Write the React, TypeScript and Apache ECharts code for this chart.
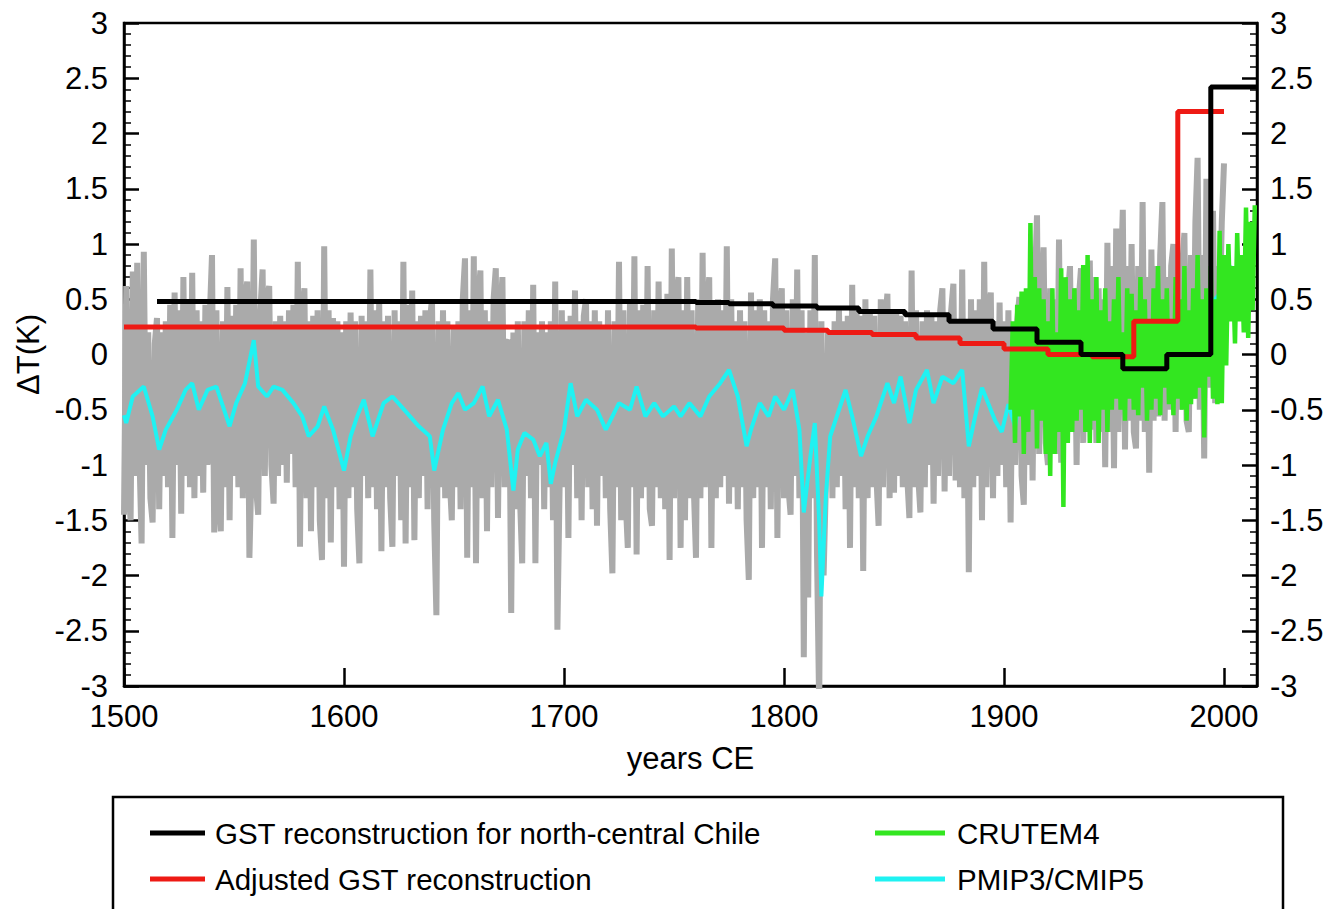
import React, { useEffect, useRef } from "react";
import * as echarts from "echarts";

// ---- Data ----
// Gray annual series (proxy/ensemble spread), 1500..2000
const grayStartYear = 1500;
const grayValues = [
  -1.45, 0.62, -1.2, -1.5, 0.75, -1.1, 0.83, -0.9, -1.71, 0.93,
  -1.0, 0.2, -1.3, -1.52, 0.1, 0.33, -1.4, 0.2, -1.1, 0.3,
  -1.2, 0.45, -1.66, 0.56, -1.0, 0.4, -1.44, 0.7, -1.1, 0.5,
  -1.2, 0.74, -1.3, 0.4, -1.1, 0.3, -1.25, 0.45, -1.0, 0.35,
  0.9, -1.61, 0.4, -1.3, -1.6, 0.3, -1.2, 0.61, -1.5, 0.35,
  -1.1, 0.45, -1.2, 0.78, -1.3, 0.5, 0.66, -1.84, -1.0, 1.04,
  -1.2, -1.45, 0.4, 0.77, -1.1, 0.5, 0.62, -1.0, -1.35, 0.3,
  -1.1, 0.35, -1.0, 0.3, -1.16, 0.4, -0.9, 0.45, -1.2, 0.84,
  -1.74, 0.4, 0.6, -1.3, 0.3, -1.6, 0.35, -1.2, 0.4, -1.5,
  -1.86, 0.98, -1.3, 0.4, -1.7, 0.33, -1.2, 0.3, -1.4, 0.2,
  -1.92, 0.3, -1.3, 0.38, -1.2, 0.3, -1.4, -1.89, 0.35, -1.1,
  0.3, -1.3, 0.77, -1.2, 0.4, -1.4, 0.47, -1.78, 0.3, -1.2,
  0.35, -1.3, -1.74, 0.4, -1.1, 0.3, -1.5, 0.84, -1.71, 0.45,
  -1.2, 0.58, -1.68, 0.3, -1.3, 0.35, -1.1, 0.4, -1.4, 0.3,
  0.5, -1.5, -2.36, 0.3, -1.2, 0.4, -1.3, 0.3, -1.1, -1.5,
  0.25, -1.2, 0.3, -1.4, 0.5, 0.87, -1.84, 0.4, -1.2, 0.89,
  -1.89, 0.5, 0.76, -1.3, 0.4, -1.6, 0.3, -1.2, 0.5, 0.78,
  -1.48, 0.35, 0.7, -1.2, 0.1, 0.13, -2.34, 0.2, -1.4, 0.3,
  -1.3, -1.89, 0.3, -1.1, 0.4, -1.3, 0.63, -1.89, 0.2, -1.0,
  0.3, -1.4, 0.2, -1.2, 0.3, -1.5, 0.66, -2.49, -1.2, 0.4,
  -1.2, 0.3, -1.66, 0.35, -1.0, 0.58, -1.3, 0.3, -1.5, 0.35,
  0.5, -1.2, 0.3, -1.4, 0.4, -1.55, 0.3, -1.1, 0.25, -1.3,
  0.4, -1.4, -1.98, 0.3, -1.2, 0.84, -1.5, 0.4, -1.3, -1.75,
  0.5, -1.2, 0.89, -1.81, 0.4, -1.3, 0.45, -1.2, 0.8, -1.4,
  -1.55, 0.4, -1.2, 0.66, -1.3, 0.5, -1.4, 0.55, -1.86, 0.96,
  -1.3, 0.5, 0.7, -1.75, 0.4, -1.5, 0.7, -1.3, 0.4, -1.2,
  -1.84, 0.5, -1.3, 0.92, -1.2, 0.4, 0.7, -1.75, 0.45, -1.3,
  0.5, -1.2, 0.4, -1.1, 0.98, -1.35, 0.5, -1.2, 0.3, -1.4,
  0.4, -1.2, 0.3, -1.5, -2.04, 0.56, -1.3, 0.4, -1.2, 0.5,
  -1.75, 0.4, -1.2, 0.3, -1.4, 0.5, 0.87, -1.66, 0.4, 0.6,
  -1.3, 0.4, -1.2, -1.45, 0.5, -1.1, 0.77, -1.3, 0.4, -2.74,
  0.2, -2.2, 0.4, -1.3, 0.9, -1.8, -3.2, 0.3, -2.0, -1.2,
  0.2, 0.13, -1.3, 0.3, -1.2, 0.4, -1.1, 0.3, -1.4, 0.35,
  -1.75, 0.63, -1.2, 0.4, -1.3, 0.35, -1.96, 0.5, -1.3, 0.4,
  -1.2, 0.35, -1.1, -1.55, 0.5, -1.2, 0.3, 0.55, -1.3, 0.4,
  -1.25, 0.4, -1.1, 0.35, -1.2, 0.3, -1.1, -1.48, 0.76, -1.2,
  0.4, -1.1, -1.43, 0.3, -1.2, 0.4, -1.0, 0.35, -1.35, 0.3,
  -1.1, 0.4, 0.6, -1.24, 0.35, -1.1, 0.4, 0.64, -1.14, 0.3,
  -1.2, 0.77, -1.3, 0.3, -1.97, 0.5, -1.2, 0.4, -1.1, 0.5,
  -1.5, 0.84, -1.2, 0.4, 0.56, -1.3, 0.3, -1.1, 0.47, -1.0,
  0.3, -1.2, 0.4, -1.52, 0.2, -1.0, 0.3, 0.52, -1.1, -1.36,
  0.4, -1.0, 0.5, -1.14, 0.6, 1.26, -0.9, 0.5, 0.97, -0.8,
  -1.0, 0.6, -0.8, 0.5, -0.9, 1.04, -0.98, 0.6, -0.8, 0.5,
  0.8, -0.7, 0.6, -1.0, 0.5, 0.78, -0.8, 0.6, -0.7, 0.85,
  -0.68, 0.7, -0.8, 0.6, -0.7, 0.5, -1.02, 1.01, -0.7, 0.8,
  -1.03, 1.14, -0.7, 0.6, 1.31, -0.86, 0.8, -0.6, 1.0, -0.7,
  -0.85, 0.8, -0.6, 1.38, -0.7, 0.7, -1.07, 0.95, -0.6, 0.8,
  -0.56, 0.9, 1.38, -0.6, 0.7, -0.5, 0.8, 1.0, -0.7, 0.9,
  -0.5, 0.8, 1.1, -0.6, -0.7, 0.9, -0.4, 1.2, 1.78, -0.5,
  0.9, -0.94, 1.59, -0.3, 1.0, 1.3, -0.44, 0.8, 0.3, 1.2,
  1.73,
];

// PMIP3/CMIP5 (cyan)
const cyanYears = [
  1500, 1501, 1504, 1509, 1513, 1516, 1519, 1524, 1528, 1531, 1534, 1538, 1542, 1544, 1548, 1551, 1555, 1559,
  1561, 1565, 1568, 1572, 1577, 1581, 1584, 1588, 1591, 1595, 1600, 1603, 1606, 1609, 1613, 1618, 1622, 1626,
  1630, 1634, 1639, 1641, 1645, 1649, 1652, 1655, 1659, 1663, 1666, 1670, 1674, 1677, 1679, 1682, 1686, 1689,
  1692, 1694, 1696, 1700, 1703, 1706, 1710, 1715, 1719, 1722, 1725, 1730, 1733, 1737, 1741, 1745, 1750, 1753,
  1757, 1762, 1766, 1771, 1775, 1779, 1783, 1785, 1789, 1793, 1796, 1800, 1804, 1807, 1809, 1812, 1814, 1816,
  1817, 1819, 1821, 1825, 1828, 1831, 1835, 1838, 1842, 1847, 1850, 1853, 1857, 1860, 1865, 1868, 1872, 1877,
  1881, 1884, 1887, 1890, 1893, 1896, 1899, 1902, 1905, 1908, 1912, 1916, 1920, 1924, 1928, 1932, 1936, 1940,
  1944, 1948, 1952, 1956, 1960, 1964, 1968, 1972, 1976, 1980, 1984, 1988, 1992, 1996, 2000, 2004,
];
const cyanValues = [
  -0.55, -0.62, -0.38, -0.29, -0.56, -0.86, -0.68, -0.5, -0.32, -0.26, -0.5, -0.32, -0.29, -0.41, -0.65, -0.44, -0.26, 0.13,
  -0.29, -0.38, -0.29, -0.32, -0.44, -0.56, -0.74, -0.65, -0.47, -0.68, -1.05, -0.74, -0.56, -0.41, -0.74, -0.44, -0.38, -0.47,
  -0.56, -0.65, -0.74, -1.05, -0.68, -0.44, -0.35, -0.5, -0.44, -0.29, -0.56, -0.41, -0.68, -1.23, -0.86, -0.71, -0.77, -0.92,
  -0.8, -1.17, -0.98, -0.68, -0.26, -0.56, -0.41, -0.5, -0.68, -0.56, -0.44, -0.5, -0.29, -0.56, -0.44, -0.56, -0.47, -0.56,
  -0.44, -0.56, -0.38, -0.26, -0.14, -0.38, -0.83, -0.68, -0.44, -0.56, -0.38, -0.5, -0.32, -0.68, -1.43, -0.92, -0.62, -1.52,
  -2.19, -1.29, -0.74, -0.5, -0.32, -0.56, -0.92, -0.74, -0.56, -0.26, -0.44, -0.2, -0.62, -0.32, -0.14, -0.44, -0.2, -0.26,
  -0.14, -0.83, -0.55, -0.3, -0.45, -0.6, -0.7, -0.45, -0.65, -0.3, -0.4, -0.2, -0.1, -0.3, -0.1, 0.0, -0.2, 0.0,
  0.1, -0.1, 0.1, 0.2, 0.0, -0.2, 0.2, 0.4, 0.2, 0.3, 0.1, 0.4, 0.3, 0.5, 0.6, 0.8,
];

// CRUTEM4 (green), annual from 1903
const greenStartYear = 1903;
const greenValues = [
  -0.5, 0.3, -0.8, 0.45, -0.56, 0.57, -0.9,
  0.6, -0.7, 1.19, -0.5, 0.7, -0.85, 0.6, -0.6, 0.5, -0.9,
  0.3, -1.1, 0.6, -0.9, 0.2, -0.7, 0.78, -1.38, 0.7, -0.8,
  0.5, -0.7, 0.6, -0.6, 0.4, -0.5, 0.81, -0.7, 0.9, -0.8,
  0.5, -0.6, 0.7, -0.8, 0.4, -0.5, 0.6, -0.7, 0.3, -0.5,
  0.5, -0.4, 0.7, -0.5, 0.2, -0.6, 0.6, -0.4, 0.55, -0.5,
  0.4, -0.55, 0.7, -0.3, 0.5, -0.6, 0.3, -0.5, 0.6, -0.4,
  0.8, -0.55, 0.5, -0.3, 0.6, -0.45, 0.3, -0.55, 0.7, -0.4,
  0.5, -0.5, 0.8, -0.6, 0.4, -0.45, 0.6, -0.4, 0.9, -0.3,
  0.5, -0.75, 0.6, -0.2, 0.8, -0.4, 0.5, -0.45, 1.12, -0.44,
  0.9, -0.1, 1.0, 0.3, 0.8, 0.1, 1.1, 0.3, 0.9, 0.2,
  1.33, 0.15, 1.2, 0.4, 1.35,
];

// GST reconstruction for north-central Chile (black, step)
const gstYears = [1515, 1700, 1760, 1775, 1795, 1815, 1834, 1855, 1875, 1895, 1915, 1935, 1954, 1974, 1994, 2015];
const gstValues = [0.48, 0.48, 0.47, 0.46, 0.44, 0.42, 0.39, 0.36, 0.3, 0.23, 0.11, 0.0, -0.13, 0.0, 2.42, 2.42];

// Adjusted GST reconstruction (red, step)
const adjYears = [1500, 1760, 1800, 1820, 1840, 1860, 1880, 1900, 1920, 1940, 1959, 1979, 2000];
const adjValues = [0.25, 0.24, 0.22, 0.2, 0.18, 0.15, 0.1, 0.05, 0.0, -0.02, 0.3, 2.2, 2.2];

const legendLeft = ["GST reconstruction for north-central Chile", "Adjusted GST reconstruction"];
const legendRight = ["CRUTEM4", "PMIP3/CMIP5"];

const FONT = "'Liberation Sans', Arial, Helvetica, sans-serif";

export default function App() {
  const ref = useRef<HTMLDivElement>(null);

  useEffect(() => {
    if (!ref.current) return;
    const chart = echarts.init(ref.current, undefined, { renderer: "svg" });

    const grayData = grayValues.map((v, i) => [grayStartYear + i, v]);
    const cyanData = cyanYears.map((y, i) => [y, cyanValues[i]]);
    const greenData = greenValues.map((v, i) => [greenStartYear + i, v]);
    const gstData = gstYears.map((y, i) => [y, gstValues[i]]);
    const adjData = adjYears.map((y, i) => [y, adjValues[i]]);

    const yAxisCommon = {
      type: "value",
      min: -3,
      max: 3,
      interval: 0.5,
      axisLine: { show: true, onZero: false, lineStyle: { color: "#000", width: 2.5 } },
      axisTick: { show: true, inside: true, length: 15, lineStyle: { color: "#000", width: 2.5 } },
      minorTick: { show: true, splitNumber: 5, length: 7, lineStyle: { color: "#000", width: 1.5 } },
      splitLine: { show: false },
      axisLabel: { color: "#000", fontSize: 31, fontFamily: FONT },
    };

    const option = {
      animation: false,
      backgroundColor: "#fff",
      grid: {
        left: 124,
        right: 78,
        top: 23,
        bottom: 223,
        show: true,
        borderColor: "#000",
        borderWidth: 2.5,
        backgroundColor: "transparent",
      },
      xAxis: [
        {
          type: "value",
          min: 1500,
          max: 2015,
          interval: 100,
          position: "bottom",
          name: "years CE",
          nameLocation: "middle",
          nameGap: 57,
          nameTextStyle: { color: "#000", fontSize: 31, fontFamily: FONT },
          axisLine: { show: true, onZero: false, lineStyle: { color: "#000", width: 2.5 } },
          axisTick: { show: true, inside: true, length: 18, lineStyle: { color: "#000", width: 2.5 } },
          splitLine: { show: false },
          axisLabel: {
            color: "#000",
            fontSize: 31,
            fontFamily: FONT,
            margin: 15,
            showMaxLabel: false,
            formatter: (v: number) => (v % 100 === 0 ? String(v) : ""),
          },
        },
        {
          type: "value",
          min: 1500,
          max: 2015,
          interval: 20,
          position: "bottom",
          axisLine: { show: false },
          axisTick: { show: true, inside: true, length: 8, lineStyle: { color: "#000", width: 1.5 } },
          splitLine: { show: false },
          axisLabel: { show: false },
        },
      ],
      yAxis: [
        {
          ...yAxisCommon,
          position: "left",
          name: "ΔT(K)",
          nameLocation: "middle",
          nameGap: 80,
          nameTextStyle: { color: "#000", fontSize: 31, fontFamily: FONT },
          axisLabel: { ...yAxisCommon.axisLabel, margin: 16 },
        },
        {
          ...yAxisCommon,
          position: "right",
          axisLabel: { ...yAxisCommon.axisLabel, margin: 13 },
        },
      ],
      legend: [
        {
          data: legendLeft,
          orient: "vertical",
          left: 150,
          top: 818,
          itemWidth: 55,
          itemHeight: 5,
          itemGap: 16,
          icon: "rect",
          padding: 0,
          textStyle: { color: "#000", fontSize: 29.5, fontFamily: FONT, lineHeight: 30, padding: [0, 0, 0, 5] },
        },
        {
          data: legendRight,
          orient: "vertical",
          left: 875,
          top: 818,
          itemWidth: 70,
          itemHeight: 5,
          itemGap: 16,
          icon: "rect",
          padding: 0,
          textStyle: { color: "#000", fontSize: 29.5, fontFamily: FONT, lineHeight: 30, padding: [0, 0, 0, 7] },
        },
      ],
      graphic: [
        {
          type: "rect",
          shape: { x: 113, y: 797, width: 1170, height: 140 },
          style: { fill: "none", stroke: "#000", lineWidth: 2.5 },
          silent: true,
        },
      ],
      series: [
        {
          name: "gray",
          type: "line",
          data: grayData,
          showSymbol: false,
          symbol: "none",
          lineStyle: { color: "#aaaaaa", width: 6 },
          itemStyle: { color: "#aaaaaa" },
          z: 1,
        },
        {
          name: "PMIP3/CMIP5",
          type: "line",
          data: cyanData,
          showSymbol: false,
          symbol: "none",
          lineStyle: { color: "#1ff2f2", width: 4 },
          itemStyle: { color: "#1ff2f2" },
          z: 2,
        },
        {
          name: "CRUTEM4",
          type: "line",
          data: greenData,
          showSymbol: false,
          symbol: "none",
          lineStyle: { color: "#33e620", width: 4.5 },
          itemStyle: { color: "#33e620" },
          z: 3,
        },
        {
          name: "Adjusted GST reconstruction",
          type: "line",
          step: "end",
          data: adjData,
          showSymbol: false,
          symbol: "none",
          lineStyle: { color: "#ee1a14", width: 5 },
          itemStyle: { color: "#ee1a14" },
          z: 4,
        },
        {
          name: "GST reconstruction for north-central Chile",
          type: "line",
          step: "end",
          data: gstData,
          showSymbol: false,
          symbol: "none",
          lineStyle: { color: "#000", width: 5 },
          itemStyle: { color: "#000" },
          z: 5,
        },
      ],
    };

    chart.setOption(option as any);
    return () => chart.dispose();
  }, []);

  return (
    <div
      ref={ref}
      style={{ position: "fixed", left: 0, top: 0, width: 1335, height: 909, background: "#fff" }}
    />
  );
}
